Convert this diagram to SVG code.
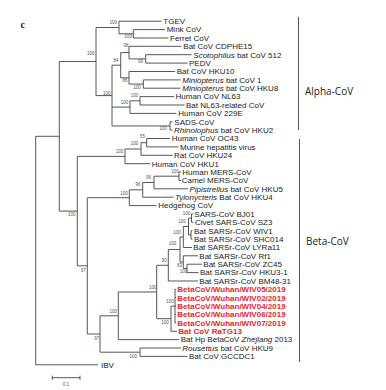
<svg xmlns="http://www.w3.org/2000/svg" width="386" height="390" viewBox="0 0 386 390">
<style>
.t{font-family:"Liberation Sans",Arial,sans-serif;font-size:8px;fill:#222}
.r{font-family:"Liberation Sans",Arial,sans-serif;font-size:8px;fill:#e8262d;font-weight:bold}
.b{font-family:"Liberation Sans",Arial,sans-serif;font-size:4.5px;fill:#555;text-anchor:middle}
.c{font-family:"Open Sans","Liberation Sans",sans-serif;font-size:10px;fill:#222}
.e{fill:none;stroke:#444;stroke-width:0.9}
.bar{fill:none;stroke:#555;stroke-width:1}
</style>
<rect width="386" height="390" fill="#fff"/>
<text x="20.5" y="27.5" font-family="Liberation Serif,serif" font-weight="bold" font-size="10" fill="#222">c</text>
<g id="connectors">
<path class="e" d="M133.3,29.6V38M133.3,29.6H165M133.3,38H168.5
M119,21.2V33.8M119,21.2H161.5M119,33.8H133.3
M145.7,54.7V63.1M145.7,54.7H191.5M145.7,63.1H187.5
M129,46.3V58.9M129,46.3H181.5M129,58.9H145.7
M143.3,79.9V88.2M143.3,79.9H180.5M143.3,88.2H180.5
M129,71.5V84.05M129,71.5H175M129,84.05H143.3
M120.7,52.6V77.8M120.7,52.6H129M120.7,77.8H129
M140,96.6V105M140,96.6H174M140,105H184.5
M130,100.8V113.4M130,100.8H140M130,113.4H176.5
M170,121.8V130.1M170,121.8H172.5M170,130.1H172.5
M112,65.2V125.95M112,65.2H120.7M112,107.1H130M112,125.95H170
M96,27.5V95.6M96,27.5H119M96,95.6H112
M146.7,138.5V146.9M146.7,138.5H170M146.7,146.9H178.5
M141,142.7V155.3M141,142.7H146.7M141,155.3H172.5
M125,149V163.7M125,149H141M125,163.7H150
M179,172V180.4M179,172H181M179,180.4H181
M154,176.2V188.8M154,176.2H179M154,188.8H188
M142.7,182.5V197.2M142.7,182.5H154M142.7,197.2H173.5
M129.3,189.85V205.6M129.3,189.85H142.7M129.3,205.6H156.5
M191.5,213.9V222.3M191.5,213.9H193M191.5,222.3H193.5
M191,230.7V239.1M191,230.7H192.5M191,239.1H192.5
M188.5,218.1V234.9M188.5,218.1H191.5M188.5,234.9H191
M183.3,226.5V247.5M183.3,226.5H188.5M183.3,247.5H192
M187,264.2V272.6M187,264.2H202M187,272.6H198.5
M183.3,255.8V268.4M183.3,255.8H198M183.3,268.4H187
M180,237V262.1M180,237H183.3M180,262.1H183.3
M168.3,249.55V281M168.3,249.55H180M168.3,281H198
M175,289.4V322.9M175,289.4H176M175,297.7H176M175,306.1H176M175,314.5H176M175,322.9H176
M171,306.15V331.3M171,306.15H175M171,331.3H177
M156.7,265.3V318.7M156.7,265.3H168.3M156.7,318.7H171
M118.3,292V339.6M118.3,292H156.7M118.3,339.6H179
M140,348V356.4M140,348H181M140,356.4H187.5
M100,315.8V352.2M100,315.8H118.3M100,352.2H140
M87.3,197.7V334M87.3,197.7H129.3M87.3,334H100
M77.3,156.35V265.85M77.3,156.35H125M77.3,265.85H87.3
M59.3,61.55V211.1M59.3,61.55H96M59.3,211.1H77.3
M35.7,136.3V364.8M35.7,136.3H59.3M35.7,364.8H98"/>
</g>
<g id="bootstrap">
<text class="b" x="113.3" y="23.9">100</text>
<text class="b" x="128.3" y="37.6">100</text>
<text class="b" x="90.7" y="54.9">100</text>
<text class="b" x="126" y="47.1">98</text>
<text class="b" x="116" y="61.6">84</text>
<text class="b" x="140.5" y="63.1">99</text>
<text class="b" x="125" y="81.6">86</text>
<text class="b" x="137" y="89.1">100</text>
<text class="b" x="106.7" y="95.1">100</text>
<text class="b" x="134.5" y="97.1">100</text>
<text class="b" x="124.5" y="103.6">100</text>
<text class="b" x="163" y="130.1">100</text>
<text class="b" x="142.5" y="138.3">55</text>
<text class="b" x="134.5" y="145.1">100</text>
<text class="b" x="119.5" y="153.1">100</text>
<text class="b" x="175" y="172.6">100</text>
<text class="b" x="148.5" y="179.1">96</text>
<text class="b" x="138" y="186.1">96</text>
<text class="b" x="124" y="194.9">100</text>
<text class="b" x="71.7" y="215.9">100</text>
<text class="b" x="186.5" y="215.1">100</text>
<text class="b" x="182" y="223.1">100</text>
<text class="b" x="177" y="233.6">100</text>
<text class="b" x="172.5" y="245.1">100</text>
<text class="b" x="164.3" y="262.1">90</text>
<text class="b" x="179.5" y="267.1">83</text>
<text class="b" x="183.5" y="272.6">100</text>
<text class="b" x="152.7" y="288.6">100</text>
<text class="b" x="170" y="302.6">100</text>
<text class="b" x="165" y="323.9">100</text>
<text class="b" x="113.3" y="312.6">100</text>
<text class="b" x="83.3" y="271.6">97</text>
<text class="b" x="96.7" y="339.9">97</text>
<text class="b" x="133.3" y="357.6">100</text>
</g>
<g id="leaf-TGEV"><text class="t" x="163.3" y="24">TGEV</text></g>
<g id="leaf-MinkCoV"><text class="t" x="166.7" y="32.4">Mink CoV</text></g>
<g id="leaf-FerretCoV"><text class="t" x="170" y="40.8">Ferret CoV</text></g>
<g id="leaf-CDPHE15"><text class="t" x="183.3" y="49.1">Bat CoV CDPHE15</text></g>
<g id="leaf-Scotophilus512"><text class="t" x="193.3" y="57.5"><tspan font-style="italic">Scotophilus</tspan> bat CoV 512</text></g>
<g id="leaf-PEDV"><text class="t" x="189" y="65.9">PEDV</text></g>
<g id="leaf-HKU10"><text class="t" x="176.7" y="74.3">Bat CoV HKU10</text></g>
<g id="leaf-Miniopterus1"><text class="t" x="182.3" y="82.7"><tspan font-style="italic">Miniopterus</tspan> bat CoV 1</text></g>
<g id="leaf-HKU8"><text class="t" x="182.3" y="91"><tspan font-style="italic">Miniopterus</tspan> bat CoV HKU8</text></g>
<g id="leaf-NL63"><text class="t" x="175.5" y="99.4">Human CoV NL63</text></g>
<g id="leaf-BatNL63"><text class="t" x="186" y="107.8">Bat NL63-related CoV</text></g>
<g id="leaf-229E"><text class="t" x="178.3" y="116.2">Human CoV 229E</text></g>
<g id="leaf-SADS"><text class="t" x="174.3" y="124.6">SADS-CoV</text></g>
<g id="leaf-HKU2"><text class="t" x="174" y="132.9"><tspan font-style="italic">Rhinolophus</tspan> bat CoV HKU2</text></g>
<g id="leaf-OC43"><text class="t" x="171.7" y="141.3">Human CoV OC43</text></g>
<g id="leaf-MHV"><text class="t" x="180" y="149.7">Murine hepatitis virus</text></g>
<g id="leaf-HKU24"><text class="t" x="174" y="158.1">Rat CoV HKU24</text></g>
<g id="leaf-HKU1"><text class="t" x="151.7" y="166.5">Human CoV HKU1</text></g>
<g id="leaf-HumanMERS"><text class="t" x="182.3" y="174.8">Human MERS-CoV</text></g>
<g id="leaf-CamelMERS"><text class="t" x="181.7" y="183.2">Camel MERS-CoV</text></g>
<g id="leaf-HKU5"><text class="t" x="189.5" y="191.6"><tspan font-style="italic">Pipistrellus</tspan> bat CoV HKU5</text></g>
<g id="leaf-HKU4"><text class="t" x="175" y="200"><tspan font-style="italic">Tylonycteris</tspan> Bat CoV HKU4</text></g>
<g id="leaf-Hedgehog"><text class="t" x="158.3" y="208.4">Hedgehog CoV</text></g>
<g id="leaf-BJ01"><text class="t" x="194.3" y="216.7">SARS-CoV BJ01</text></g>
<g id="leaf-SZ3"><text class="t" x="195" y="225.1">Civet SARS-CoV SZ3</text></g>
<g id="leaf-WIV1"><text class="t" x="194" y="233.5">Bat SARSr-CoV WIV1</text></g>
<g id="leaf-SHC014"><text class="t" x="194" y="241.9">Bat SARSr-CoV SHC014</text></g>
<g id="leaf-LYRa11"><text class="t" x="193.3" y="250.3">Bat SARSr-CoV LYRa11</text></g>
<g id="leaf-Rf1"><text class="t" x="199.3" y="258.6">Bat SARSr-CoV Rf1</text></g>
<g id="leaf-ZC45"><text class="t" x="203.3" y="267">Bat SARSr-CoV ZC45</text></g>
<g id="leaf-HKU3-1"><text class="t" x="200" y="275.4">Bat SARSr-CoV HKU3-1</text></g>
<g id="leaf-BM48-31"><text class="t" x="199.3" y="283.8">Bat SARSr-CoV BM48-31</text></g>
<g id="leaf-WIV05"><text class="r" x="177.3" y="292.2">BetaCoV/Wuhan/WIV05/2019</text></g>
<g id="leaf-WIV02"><text class="r" x="177.3" y="300.5">BetaCoV/Wuhan/WIV02/2019</text></g>
<g id="leaf-WIV04"><text class="r" x="177.3" y="308.9">BetaCoV/Wuhan/WIV04/2019</text></g>
<g id="leaf-WIV06"><text class="r" x="177.3" y="317.3">BetaCoV/Wuhan/WIV06/2019</text></g>
<g id="leaf-WIV07"><text class="r" x="177.3" y="325.7">BetaCoV/Wuhan/WIV07/2019</text></g>
<g id="leaf-RaTG13"><text class="r" x="178.3" y="334.1">Bat CoV RaTG13</text></g>
<g id="leaf-Zhejiang2013"><text class="t" x="180.7" y="342.4">Bat Hp BetaCoV <tspan font-style="italic">Zhejiang</tspan> 2013</text></g>
<g id="leaf-HKU9"><text class="t" x="182.3" y="350.8"><tspan font-style="italic">Rousettus</tspan> bat CoV HKU9</text></g>
<g id="leaf-GCCDC1"><text class="t" x="189" y="359.2">Bat CoV GCCDC1</text></g>
<g id="leaf-IBV"><text class="t" x="101" y="367.6">IBV</text></g>
<g id="clade-alpha">
<path class="bar" d="M298.5,16.7V130"/>
<text class="c" x="305" y="95">Alpha-CoV</text>
</g>
<g id="clade-beta">
<path class="bar" d="M299.5,139V362"/>
<text class="c" x="306" y="244.5">Beta-CoV</text>
</g>
<g id="scale-bar">
<path class="e" d="M52.3,377.7H80M52.3,375.7V379.7M80,375.7V379.7"/>
<text class="b" x="66" y="385.5" font-size="5">0.1</text>
</g>
</svg>
